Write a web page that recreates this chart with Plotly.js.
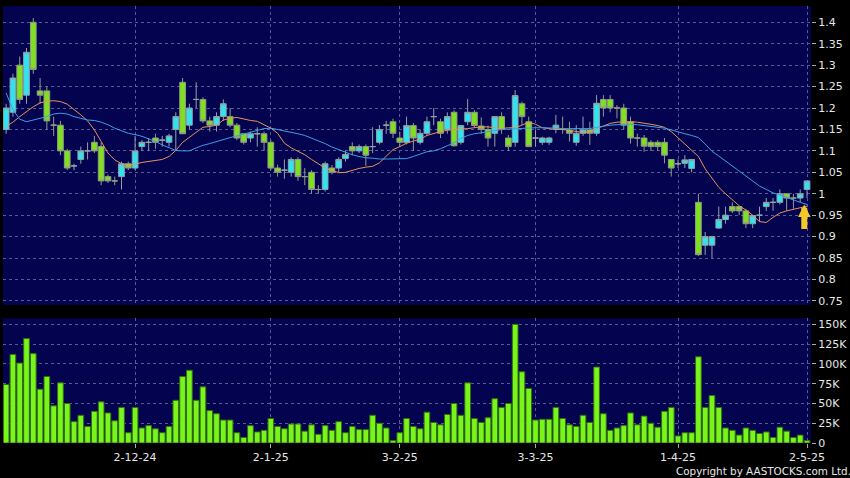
<!DOCTYPE html>
<html><head><meta charset="utf-8">
<script src="https://cdn.plot.ly/plotly-3.0.1.min.js"></script>
<style>html,body{margin:0;padding:0;background:#000;}#c{width:850px;height:478px;}</style>
</head><body><div id="c"></div>
<script>
const dates = [
"2024-11-05","2024-11-06","2024-11-07","2024-11-08","2024-11-11","2024-11-12","2024-11-13","2024-11-14","2024-11-15",
"2024-11-18","2024-11-19","2024-11-20","2024-11-21","2024-11-22","2024-11-25","2024-11-26","2024-11-27","2024-11-28","2024-11-29",
"2024-12-02","2024-12-03","2024-12-04","2024-12-05","2024-12-06","2024-12-09","2024-12-10","2024-12-11","2024-12-12","2024-12-13",
"2024-12-16","2024-12-17","2024-12-18","2024-12-19","2024-12-20","2024-12-23","2024-12-24","2024-12-27","2024-12-30","2024-12-31",
"2025-01-02","2025-01-03","2025-01-06","2025-01-07","2025-01-08","2025-01-09","2025-01-10","2025-01-13","2025-01-14","2025-01-15",
"2025-01-16","2025-01-17","2025-01-20","2025-01-21","2025-01-22","2025-01-23","2025-01-24","2025-01-27","2025-01-28",
"2025-02-03","2025-02-04","2025-02-05","2025-02-06","2025-02-07","2025-02-10","2025-02-11","2025-02-12","2025-02-13","2025-02-14",
"2025-02-17","2025-02-18","2025-02-19","2025-02-20","2025-02-21","2025-02-24","2025-02-25","2025-02-26","2025-02-27","2025-02-28",
"2025-03-03","2025-03-04","2025-03-05","2025-03-06","2025-03-07","2025-03-10","2025-03-11","2025-03-12","2025-03-13","2025-03-14",
"2025-03-17","2025-03-18","2025-03-19","2025-03-20","2025-03-21","2025-03-24","2025-03-25","2025-03-26","2025-03-27","2025-03-28","2025-03-31",
"2025-04-01","2025-04-02","2025-04-03","2025-04-07","2025-04-08","2025-04-09","2025-04-10","2025-04-11","2025-04-14","2025-04-15",
"2025-04-16","2025-04-17","2025-04-22","2025-04-23","2025-04-24","2025-04-25","2025-04-28","2025-04-29","2025-04-30","2025-05-02"];

const openP = [1.15,1.19,1.30,1.23,1.40,1.24,1.24,1.16,1.16,1.10, 1.065,1.08,1.10,1.12,1.11,1.04,1.03,1.04,1.07,1.06,
1.11,1.12,1.13,1.125,1.12,1.15,1.26,1.16,1.22,1.22, 1.17,1.16,1.18,1.18,1.16,1.14,1.13,1.14,1.14,1.12,
1.06,1.055,1.05,1.08,1.04,1.05,1.01,1.01,1.06,1.06, 1.082,1.11,1.10,1.11,1.11,1.12,1.16,1.168,1.13,1.12,
1.159,1.12,1.141,1.18,1.168,1.15,1.19,1.12,1.168,1.19, 1.158,1.15,1.141,1.18,1.13,1.12,1.21,1.168,1.13,1.12,
1.12,1.15,1.15,1.149,1.12,1.141,1.149,1.141,1.22,1.22, 1.20,1.20,1.168,1.13,1.13,1.12,1.12,1.12,1.08,1.07,
1.071,1.059,0.98,0.88,0.88,0.92,0.94,0.97,0.97,0.96, 0.93,0.95,0.97,0.98,0.98,1.0,0.99,0.99,1.01];
const highP = [1.21,1.28,1.32,1.34,1.41,1.27,1.25,1.18,1.17,1.105, 1.07,1.11,1.12,1.135,1.12,1.045,1.04,1.075,1.075,1.135,
1.125,1.13,1.14,1.135,1.14,1.19,1.27,1.21,1.26,1.225, 1.18,1.19,1.22,1.20,1.165,1.14,1.145,1.155,1.145,1.125,
1.068,1.08,1.085,1.085,1.06,1.055,1.02,1.075,1.067,1.085, 1.10,1.12,1.115,1.115,1.155,1.16,1.17,1.175,1.145,1.18,
1.165,1.15,1.18,1.20,1.175,1.19,1.195,1.16,1.221,1.195, 1.178,1.159,1.18,1.19,1.137,1.242,1.215,1.18,1.15,1.133,
1.133,1.184,1.18,1.168,1.16,1.18,1.168,1.23,1.23,1.23, 1.207,1.21,1.18,1.14,1.137,1.125,1.125,1.13,1.08,1.08,
1.09,1.08,1.0,0.911,0.90,0.97,0.97,0.98,0.97,0.965, 0.95,0.97,0.99,0.99,1.01,1.0,1.0,1.01,1.03];
const lowP = [1.14,1.18,1.21,1.21,1.28,1.21,1.15,1.135,1.09,1.055, 1.055,1.07,1.08,1.095,1.02,1.025,1.02,1.01,1.055,1.055,
1.10,1.10,1.105,1.11,1.11,1.10,1.14,1.15,1.20,1.165, 1.145,1.145,1.17,1.155,1.125,1.115,1.12,1.11,1.10,1.055,
1.04,1.035,1.04,1.03,1.02,1.0,1.0,1.005,1.045,1.05, 1.075,1.09,1.095,1.065,1.095,1.115,1.14,1.13,1.11,1.115,
1.10,1.115,1.135,1.16,1.13,1.14,1.11,1.115,1.16,1.155, 1.14,1.11,1.11,1.14,1.10,1.11,1.16,1.11,1.11,1.114,
1.114,1.141,1.14,1.122,1.112,1.135,1.114,1.135,1.18,1.19, 1.176,1.15,1.117,1.11,1.098,1.10,1.10,1.071,1.04,1.06,
1.06,1.05,0.855,0.857,0.85,0.918,0.93,0.955,0.95,0.92, 0.92,0.935,0.96,0.96,0.975,0.96,0.965,0.98,0.99];
const closeP = [1.20,1.27,1.22,1.33,1.29,1.23,1.17,1.16,1.10,1.06, 1.065,1.10,1.10,1.10,1.03,1.03,1.03,1.07,1.06,1.10,
1.12,1.12,1.12,1.125,1.135,1.18,1.14,1.20,1.22,1.17, 1.16,1.18,1.21,1.16,1.13,1.12,1.14,1.14,1.12,1.06,
1.05,1.055,1.08,1.04,1.04,1.01,1.01,1.07,1.05,1.08, 1.092,1.10,1.11,1.09,1.11,1.15,1.16,1.141,1.12,1.159,
1.13,1.141,1.168,1.18,1.141,1.18,1.112,1.159,1.19,1.159, 1.15,1.13,1.18,1.15,1.11,1.229,1.18,1.11,1.13,1.13,
1.13,1.16,1.15,1.141,1.141,1.149,1.141,1.211,1.20,1.20, 1.20,1.16,1.13,1.13,1.111,1.11,1.11,1.09,1.06,1.07,
1.079,1.08,0.858,0.90,0.90,0.94,0.95,0.96,0.96,0.93, 0.949,0.95,0.98,0.98,1.0,0.99,0.99,1.0,1.03];

const ma10 = [1.157,1.167,1.18,1.192,1.203,1.212,1.216,1.217,1.215,1.209, 1.197,1.184,1.17,1.149,1.122,1.095,1.079,1.07,1.067,1.069,
1.073,1.075,1.077,1.08,1.087,1.101,1.12,1.132,1.143,1.155, 1.157,1.16,1.172,1.176,1.178,1.174,1.171,1.169,1.161,1.153,
1.141,1.118,1.107,1.099,1.091,1.08,1.071,1.06,1.055,1.049, 1.05,1.055,1.059,1.062,1.064,1.072,1.087,1.103,1.11,1.118,
1.123,1.127,1.136,1.141,1.145,1.148,1.15,1.151,1.152,1.154, 1.156,1.156,1.154,1.152,1.154,1.154,1.16,1.167,1.162,1.154,
1.152,1.15,1.15,1.148,1.146,1.143,1.144,1.152,1.158,1.164, 1.167,1.168,1.168,1.167,1.165,1.162,1.159,1.155,1.145,1.13,
1.115,1.1,1.087,1.058,1.037,1.015,1.0,0.985,0.972,0.962, 0.95,0.935,0.933,0.945,0.955,0.96,0.964,0.968,0.971];
const ma20 = [1.235,1.196,1.174,1.168,1.172,1.176,1.18,1.186,1.188,1.186, 1.18,1.176,1.172,1.171,1.167,1.161,1.153,1.147,1.141,1.138,
1.134,1.128,1.122,1.114,1.107,1.101,1.1,1.1,1.107,1.113, 1.117,1.122,1.127,1.131,1.135,1.139,1.143,1.147,1.152,1.153,
1.15,1.146,1.143,1.14,1.136,1.13,1.124,1.117,1.109,1.103, 1.097,1.091,1.087,1.084,1.083,1.081,1.081,1.081,1.081,1.082,
1.087,1.093,1.098,1.1,1.105,1.112,1.119,1.129,1.136,1.14, 1.142,1.144,1.147,1.15,1.151,1.152,1.153,1.153,1.154,1.154,
1.154,1.153,1.152,1.152,1.151,1.151,1.152,1.155,1.158,1.16, 1.161,1.162,1.162,1.161,1.159,1.157,1.155,1.153,1.149,1.144,
1.14,1.136,1.131,1.116,1.099,1.088,1.076,1.065,1.052,1.04, 1.03,1.018,1.01,1.002,0.997,0.991,0.986,0.98,0.975];

const volume = [74,112,101,132,113,68,84,47,76,50, 27,35,21,40,52,38,28,45,13,45, 19,22,18,13,21,54,84,92,54,71,
41,37,29,29,13,7,22,14,16,31, 21,18,24,24,15,23,11,22,16,27, 13,21,17,17,35,25,19,3,13,31, 21,
18,39,26,23,36,50,35,76,31, 26,32,56,45,50,150,90,69,29,30, 30,45,31,23,21,35,26,96,37,16,
19,22,38,23,34,25,20,40,45,9, 13,13,109,45,60,45,19,16,10,19, 16,12,14,7,20,15,7,10,3].map(v => v * 1000);

const xTickDates = ["2024-12-02","2025-01-02","2025-02-03","2025-03-03","2025-04-01","2025-05-02"];
const xTickText = ["2-12-24","2-1-25","3-2-25","3-3-25","1-4-25","2-5-25"];
const priceTicks = [0.75,0.8,0.85,0.9,0.95,1.0,1.05,1.1,1.15,1.2,1.25,1.3,1.35,1.4];
const priceTickText = ["0.75","0.8","0.85","0.9","0.95","1","1.05","1.1","1.15","1.2","1.25","1.3","1.35","1.4"];
const volTicks = [0,25000,50000,75000,100000,125000,150000];
const volTickText = ["0","25K","50K","75K","100K","125K","150K"];

const gridC = '#5a5a92';
const fontC = '#e6e6e6';
const FONT = 'DejaVu Sans, Verdana, sans-serif';
const xr = [-0.463, 118.59];

const traces = [
  {type:'candlestick', x:dates, open:openP, high:highP, low:lowP, close:closeP, xaxis:'x', yaxis:'y',
   increasing:{fillcolor:'#2fe4f0', line:{color:'#93a3a6', width:1}},
   decreasing:{fillcolor:'#7fe01e', line:{color:'#939c88', width:1}},
   whiskerwidth:0, hoverinfo:'skip', showlegend:false},
  {type:'scatter', mode:'lines', x:dates, y:ma10, xaxis:'x', yaxis:'y', line:{color:'#e8925c', width:1}, hoverinfo:'skip', showlegend:false},
  {type:'scatter', mode:'lines', x:dates, y:ma20, xaxis:'x', yaxis:'y', line:{color:'#3d9ee6', width:1}, hoverinfo:'skip', showlegend:false},
  {type:'bar', x:dates, y:volume, xaxis:'x2', yaxis:'y2', width:0.84,
   marker:{color:'#7af51c', line:{color:'#2f6e10', width:1}}, hoverinfo:'skip', showlegend:false}
];

const layout = {
  width:850, height:478,
  paper_bgcolor:'#000000', plot_bgcolor:'#03034f',
  margin:{l:3, r:39, t:6, b:35},
  font:{family:FONT, color:fontC, size:11},
  showlegend:false,
  boxgap:0.16, boxgroupgap:0,
  xaxis:{type:'category', domain:[0,1], anchor:'y', range:xr, tickvals:xTickDates, ticktext:xTickText,
    showticklabels:false, ticks:'', showgrid:true, gridcolor:gridC, griddash:'3px,3px', gridwidth:1,
    zeroline:false, showline:false, rangeslider:{visible:false}, fixedrange:true},
  xaxis2:{type:'category', domain:[0,1], anchor:'y2', range:xr, tickvals:xTickDates, ticktext:xTickText,
    showticklabels:true, ticks:'outside', ticklen:4, tickcolor:'#aaaaaa', tickfont:{size:11, color:fontC, family:FONT},
    showgrid:true, gridcolor:gridC, griddash:'3px,3px', gridwidth:1, zeroline:false, showline:false, fixedrange:true},
  yaxis:{domain:[0.316,1], anchor:'x', side:'right', range:[0.7407,1.438], tickvals:priceTicks, ticktext:priceTickText,
    ticks:'outside', ticklen:4, tickcolor:'#aaaaaa', tickfont:{size:11, color:fontC, family:FONT},
    showgrid:true, gridcolor:gridC, griddash:'3px,3px', gridwidth:1, zeroline:false, showline:false, fixedrange:true},
  yaxis2:{domain:[0,0.2853], anchor:'x2', side:'right', range:[0,157600], tickvals:volTicks, ticktext:volTickText,
    ticks:'outside', ticklen:4, tickcolor:'#aaaaaa', tickfont:{size:11, color:fontC, family:FONT},
    showgrid:true, gridcolor:gridC, griddash:'3px,3px', gridwidth:1, zeroline:false, showline:false, fixedrange:true},
  annotations:[
    {xref:'paper', yref:'paper', x:1.052, y:-0.064, xanchor:'right', yanchor:'middle', showarrow:false,
     text:'Copyright by AASTOCKS.com Ltd.', font:{size:10.4, color:fontC, family:FONT}},
    {xref:'x', yref:'y', x:117.6, y:0.975, ax:0, ay:26, showarrow:true, arrowhead:2, arrowsize:0.42, arrowwidth:6,
     arrowcolor:'#f5c82a', text:''}
  ]
};

Plotly.newPlot('c', traces, layout, {staticPlot:true, displayModeBar:false});
</script>
</body></html>
